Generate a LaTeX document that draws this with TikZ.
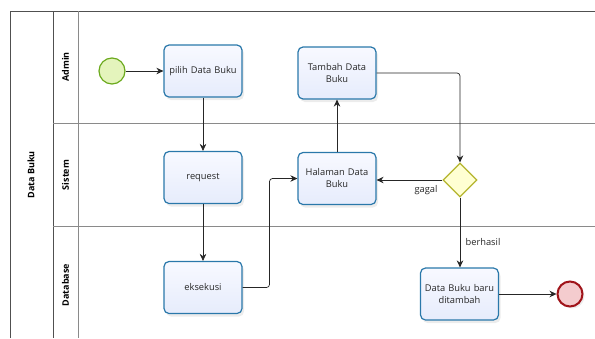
\documentclass[tikz,border=0pt]{standalone}
\usepackage{fontspec}
\setmainfont{Open Sans}
\usetikzlibrary{arrows.meta,shapes.geometric,shadows}
\definecolor{taskborder}{HTML}{2A78AA}
\definecolor{tasktop}{HTML}{F8F9FF}
\definecolor{taskbot}{HTML}{E6ECFC}
\definecolor{startborder}{HTML}{6CAA1E}
\definecolor{startfill}{HTML}{E4F4BC}
\definecolor{endborder}{HTML}{A0141A}
\definecolor{endfill}{HTML}{F4CCCE}
\definecolor{gwborder}{HTML}{B4B42E}
\definecolor{gwfill}{HTML}{FFFFD2}
\definecolor{poolline}{HTML}{505050}
\definecolor{laneline}{HTML}{8A8A8A}
\begin{document}
\begin{tikzpicture}[x=1pt,y=-1pt,
  task/.style={draw=taskborder, line width=1.2pt, rounded corners=5pt,
    top color=tasktop, bottom color=taskbot,
    minimum width=78pt, minimum height=52pt, align=center, text width=70pt,
    font=\fontsize{9.3}{12}\selectfont, text=black!85,
    drop shadow={shadow xshift=2pt, shadow yshift=-3pt, opacity=0.15}},
  startev/.style={circle, draw=startborder, line width=1.2pt, fill=startfill, minimum size=26pt, inner sep=0pt},
  endev/.style={circle, draw=endborder, line width=2pt, fill=endfill, minimum size=25pt, inner sep=0pt,
    drop shadow={shadow xshift=2pt, shadow yshift=-2pt, opacity=0.15}},
  gw/.style={diamond, draw=gwborder, line width=1.2pt, fill=gwfill, minimum width=34pt, minimum height=34pt, inner sep=0pt},
  flow/.style={draw=black!85, line width=0.7pt, rounded corners=3pt, -{Stealth[length=7pt,width=6.5pt]}},
  lanelbl/.style={rotate=90, font=\fontsize{9}{10}\selectfont\bfseries},
  lbl/.style={font=\fontsize{9.3}{11}\selectfont, text=black!85}
]
\useasboundingbox (0,0) rectangle (595,338);
% pool & lanes
\draw[poolline, line width=0.8pt] (10,338) -- (10,11) -- (595,11);
\draw[poolline, line width=0.8pt] (53,11) -- (53,338);
\draw[laneline, line width=0.8pt] (78,11) -- (78,338);
\draw[laneline, line width=0.8pt] (53,123) -- (595,123);
\draw[laneline, line width=0.8pt] (53,226) -- (595,226);
\node[lanelbl] (pool) at (31,175) {Data Buku};
\node[lanelbl] (ladmin) at (65.5,67) {Admin};
\node[lanelbl] (lsistem) at (65.5,175) {Sistem};
\node[lanelbl] (ldb) at (65.5,285) {Database};
% nodes
\node[startev] (start) at (112,71) {};
\node[task] (pilih) at (203,71) {pilih Data Buku};
\node[task] (req) at (203,177.5) {request};
\node[task] (eks) at (203,287.5) {eksekusi};
\node[task] (tambah) at (337,73) {Tambah Data\\Buku};
\node[task] (hal) at (337,178.5) {Halaman Data\\Buku};
\node[gw] (gw) at (460,180) {};
\node[task] (baru) at (459.5,294) {Data Buku baru\\ditambah};
\node[endev] (end) at (570,294) {};
\coordinate (c1) at (269.5,287.5);
\coordinate (c2) at (269.5,178.5);
\coordinate (c3) at (460,73);
% flows
\draw[flow] (start) -- (pilih);
\draw[flow] (pilih) -- (req);
\draw[flow] (req) -- (eks);
\draw[flow] (eks.east) -- (c1) -- (c2) -- (hal.west);
\draw[flow] (hal) -- (tambah);
\draw[flow] (tambah.east |- c3) -- (c3) -- (gw.north);
\draw[flow] (gw.west) -- (hal.east |- gw.west);
\draw[flow] (gw.south) -- (baru.north -| gw.south);
\draw[flow] (baru) -- (end);
\node[lbl] (gagal) at (426,190.5) {gagal};
\node[lbl] (berhasil) at (483,242.5) {berhasil};
\end{tikzpicture}
\end{document}
